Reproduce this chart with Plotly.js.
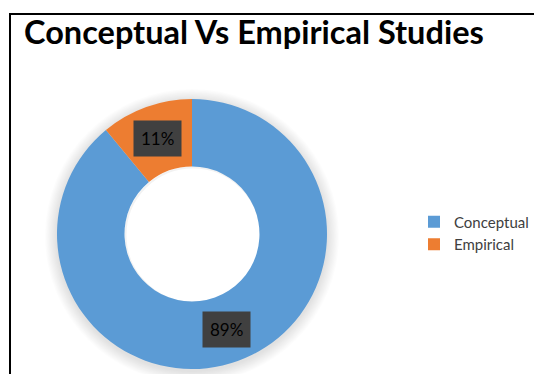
<!DOCTYPE html>
<html>
<head>
<meta charset="utf-8">
<script src="https://cdn.plot.ly/plotly-3.0.1.min.js"></script>
<style>
  html, body { margin: 0; padding: 0; background: #ffffff; }
  #chart { width: 534px; height: 374px; }
</style>
</head>
<body>
<div id="chart"></div>
<script>
// ---- data ----
const categories = ["Conceptual", "Empirical"];
const values = [89, 11];
const sliceColors = ["#5B9BD5", "#ED7D31"];
const chartTitle = "Conceptual Vs Empirical Studies";

// ---- layout geometry (pixels in 534x374 canvas) ----
const W = 534, H = 374;
const cx = 192, cy = 234, R = 135;
const holeFrac = 0.5;
const labelR = 102;

const domX = [(cx - R) / W, (cx + R) / W];
const domY = [(H - cy - R) / H, (H - cy + R) / H];

// label positions computed from data (clockwise from 12 o'clock)
const total = values.reduce((a, b) => a + b, 0);
let cum = 0;
const annotations = [];
values.forEach((v, i) => {
  const mid = (cum + v / 2) / total * 2 * Math.PI;
  cum += v;
  const px = cx + labelR * Math.sin(mid);
  const py = cy - labelR * Math.cos(mid);
  annotations.push({
    xref: "paper", yref: "paper",
    x: px / W, y: 1 - py / H,
    xanchor: "center", yanchor: "middle",
    showarrow: false,
    text: Math.round(v / total * 100) + "%",
    font: { family: "Lato, 'Open Sans', sans-serif", size: 17, color: "#000000" },
    bgcolor: "#404040",
    borderpad: 7
  });
});

// soft shadow rings behind the donut (outer only)
const shapes = [];
for (let k = 10; k >= 1; k--) {
  const rr = R + k * 1.2;
  const sy = cy + 2;
  shapes.push({
    type: "circle", xref: "paper", yref: "paper", layer: "below",
    x0: (cx - rr) / W, x1: (cx + rr) / W,
    y0: 1 - (sy + rr) / H, y1: 1 - (sy - rr) / H,
    fillcolor: "rgba(0,0,0,0.012)", line: { width: 0 }
  });
}
// white fill inside hole, covering the shadow
const rh = R * holeFrac;
shapes.push({
  type: "circle", xref: "paper", yref: "paper", layer: "below",
  x0: (cx - rh - 2) / W, x1: (cx + rh + 2) / W,
  y0: 1 - (cy + rh + 2) / H, y1: 1 - (cy - rh - 2) / H,
  fillcolor: "#ffffff", line: { width: 0 }
});
// subtle inner shading of hole
shapes.push({
  type: "circle", xref: "paper", yref: "paper", layer: "below",
  x0: (cx - rh + 1) / W, x1: (cx + rh + 1) / W,
  y0: 1 - (cy + rh + 1) / H, y1: 1 - (cy - rh + 1) / H,
  fillcolor: "rgba(0,0,0,0)", line: { width: 2, color: "rgba(0,0,0,0.05)" }
});
// frame border (top and left visible)
shapes.push({
  type: "rect", xref: "paper", yref: "paper", layer: "above",
  x0: 10 / W, x1: 1.2, y0: -0.2, y1: 1 - 14 / H,
  line: { color: "#000000", width: 2 }, fillcolor: "rgba(0,0,0,0)"
});

const trace = {
  type: "pie",
  labels: categories,
  values: values,
  hole: holeFrac,
  sort: false,
  direction: "clockwise",
  rotation: 0,
  marker: { colors: sliceColors, line: { width: 0 } },
  textinfo: "none",
  hoverinfo: "label+percent",
  domain: { x: domX, y: domY }
};

const layout = {
  width: W, height: H,
  margin: { l: 0, r: 0, t: 0, b: 0, autoexpand: false },
  paper_bgcolor: "#ffffff",
  title: {
    text: "<b>" + chartTitle + "</b>",
    x: 24 / W, xanchor: "left",
    y: 1 - 33 / H, yanchor: "middle",
    font: { family: "Lato, 'Open Sans', sans-serif", size: 32.5, color: "#000000" }
  },
  showlegend: true,
  legend: {
    x: 414 / W, xanchor: "left",
    y: 1 - 233 / H, yanchor: "middle",
    font: { family: "Lato, 'Open Sans', sans-serif", size: 15, color: "#404040" },
    bgcolor: "rgba(0,0,0,0)",
    itemwidth: 30
  },
  annotations: annotations,
  shapes: shapes
};

Plotly.newPlot("chart", [trace], layout, { displayModeBar: false, staticPlot: true });
</script>
</body>
</html>
